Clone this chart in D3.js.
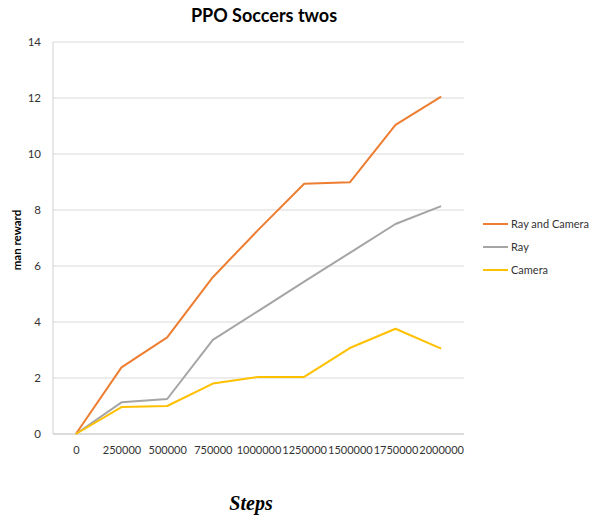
<!DOCTYPE html>
<html>
<head>
<meta charset="utf-8">
<script src="https://cdn.jsdelivr.net/npm/d3@7"></script>
<style>
  body { margin: 0; background: #fff; }
  svg { display: block; }
</style>
</head>
<body>
<svg id="chart" width="594" height="519"></svg>
<script>
// Training steps (category axis)
const steps = ["0", "250000", "500000", "750000", "1000000", "1250000", "1500000", "1750000", "2000000"];
// Mean reward per observation setup
const rayAndCamera = [0, 2.38, 3.45, 5.6, 7.3, 8.94, 8.99, 11.04, 12.05];
const ray = [0, 1.13, 1.25, 3.36, 4.4, 5.44, 6.47, 7.5, 8.14];
const camera = [0, 0.96, 1.0, 1.8, 2.04, 2.04, 3.07, 3.76, 3.05];
const yTicks = [0, 2, 4, 6, 8, 10, 12, 14];

const series = [
  { name: "Ray and Camera", values: rayAndCamera, color: "#ED7D31" },
  { name: "Ray", values: ray, color: "#A5A5A5" },
  { name: "Camera", values: camera, color: "#FFC000" }
];

const svg = d3.select("#chart");
const font = "Lato, 'Open Sans', sans-serif";
const plot = { left: 53, right: 464, top: 42, bottom: 434 };

const x = d3.scalePoint().domain(steps).range([plot.left, plot.right]).padding(0.5);
const y = d3.scaleLinear().domain([0, 14]).range([plot.bottom, plot.top]);

// Horizontal gridlines
svg.append("g")
  .selectAll("line")
  .data(yTicks.filter(d => d > 0))
  .join("line")
  .attr("x1", plot.left).attr("x2", plot.right)
  .attr("y1", d => y(d)).attr("y2", d => y(d))
  .attr("stroke", "#D9D9D9").attr("stroke-width", 1.2);

// Left axis line
svg.append("line")
  .attr("x1", plot.left).attr("x2", plot.left)
  .attr("y1", plot.top).attr("y2", plot.bottom)
  .attr("stroke", "#D9D9D9").attr("stroke-width", 1.2);

// Baseline
svg.append("line")
  .attr("x1", plot.left).attr("x2", plot.right)
  .attr("y1", plot.bottom).attr("y2", plot.bottom)
  .attr("stroke", "#D0D0D0").attr("stroke-width", 1.6);

// Y tick labels
const yAxis = svg.append("g")
  .attr("transform", `translate(${plot.left - 12},0)`)
  .call(d3.axisLeft(y).tickValues(yTicks).tickSize(0).tickPadding(0));
yAxis.select(".domain").remove();
yAxis.selectAll("text")
  .attr("font-family", font).attr("font-size", 11.5).attr("fill", "#333");

// X tick labels
const xAxis = svg.append("g")
  .attr("transform", `translate(0,${plot.bottom})`)
  .call(d3.axisBottom(x).tickSize(0).tickPadding(12));
xAxis.select(".domain").remove();
xAxis.selectAll("text")
  .attr("font-family", font).attr("font-size", 11).attr("fill", "#333");

// Series lines
const line = d3.line()
  .x((d, i) => x(steps[i]))
  .y(d => y(d));

svg.append("g")
  .selectAll("path")
  .data(series)
  .join("path")
  .attr("d", s => line(s.values))
  .attr("fill", "none")
  .attr("stroke", s => s.color)
  .attr("stroke-width", 2)
  .attr("stroke-linejoin", "round");

// Title
svg.append("text")
  .attr("x", 264).attr("y", 22)
  .attr("text-anchor", "middle")
  .attr("font-family", font).attr("font-weight", "bold").attr("font-size", 18)
  .attr("fill", "#000")
  .text("PPO Soccers twos");

// Y axis title
svg.append("text")
  .attr("transform", "translate(21,240) rotate(-90)")
  .attr("text-anchor", "middle")
  .attr("font-family", font).attr("font-weight", "bold").attr("font-size", 11.5)
  .attr("fill", "#000")
  .text("man reward");

// X axis title
svg.append("text")
  .attr("x", 251).attr("y", 510)
  .attr("text-anchor", "middle")
  .attr("font-family", "'Liberation Serif', 'DejaVu Serif', serif")
  .attr("font-weight", "bold").attr("font-style", "italic").attr("font-size", 20)
  .attr("fill", "#000")
  .text("Steps");

// Legend
const legend = svg.append("g")
  .selectAll("g")
  .data(series)
  .join("g")
  .attr("transform", (d, i) => `translate(483,${224 + i * 23})`);
legend.append("line")
  .attr("x1", 0).attr("x2", 25).attr("y1", 0).attr("y2", 0)
  .attr("stroke", d => d.color).attr("stroke-width", 2);
legend.append("text")
  .attr("x", 28).attr("y", 0).attr("dy", "0.35em")
  .attr("font-family", font).attr("font-size", 11).attr("fill", "#333")
  .text(d => d.name);
</script>
</body>
</html>
